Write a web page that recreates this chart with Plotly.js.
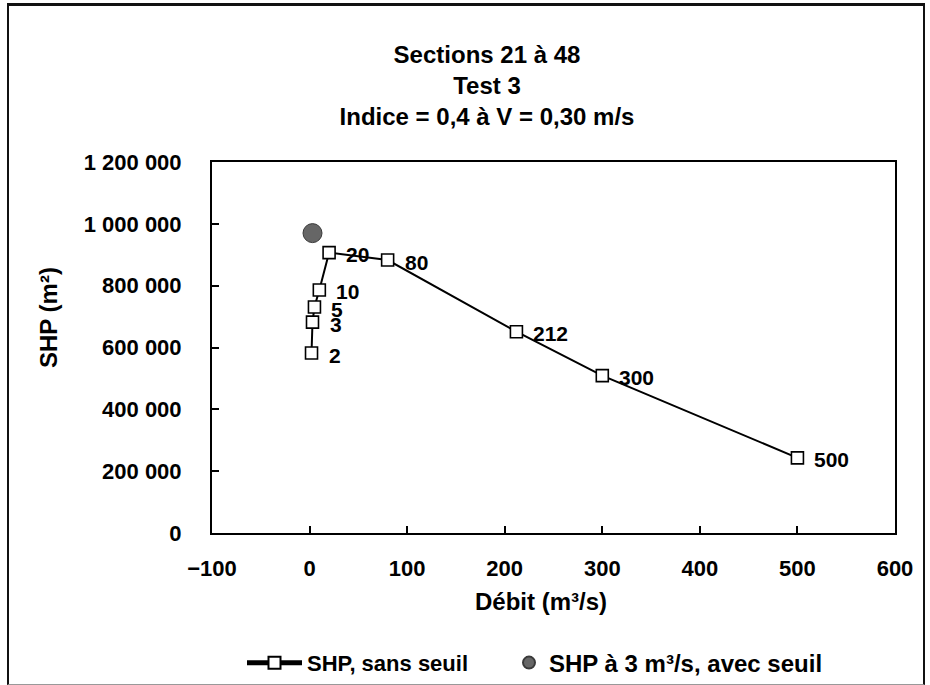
<!DOCTYPE html>
<html>
<head>
<meta charset="utf-8">
<script src="https://cdn.plot.ly/plotly-3.0.1.min.js"></script>
<style>
  html, body { margin: 0; padding: 0; background: #fff; }
  #wrap { position: relative; width: 930px; height: 685px; }
  #chart { position: absolute; left: 0; top: 0; width: 930px; height: 685px; }
  #frame { position: absolute; left: 7px; top: 3px; width: 914px; height: 678px;
           border-left: 2px solid #111; border-top: 3px solid #111; border-right: 2px solid #111;
           border-bottom: 1px solid #999; pointer-events: none; }
</style>
</head>
<body>
<div id="wrap"><div id="chart"></div><div id="frame"></div></div>
<script>
// Data
const debit = [2, 3, 5, 10, 20, 80, 212, 300, 500];
const shp = [582000, 682000, 731000, 786000, 907000, 883000, 651000, 509000, 243000];
const pointLabels = ["2", "3", "5", "10", "20", "80", "212", "300", "500"];
const seuilDebit = [3];
const seuilShp = [970000];
const seriesNames = ["SHP, sans seuil", "SHP à 3 m³/s, avec seuil"];
const yTickVals = [0, 200000, 400000, 600000, 800000, 1000000, 1200000];
const yTickText = ["0", "200 000", "400 000", "600 000", "800 000", "1 000 000", "1 200 000"];
const xTickVals = [-100, 0, 100, 200, 300, 400, 500, 600];
const titleLines = ["Sections 21 à 48", "Test 3", "Indice = 0,4 à V = 0,30 m/s"];
const xTitle = "Débit (m³/s)";
const yTitle = "SHP (m²)";

const FONT = "Liberation Sans, Arial, sans-serif";
const bold = (size) => ({ family: FONT, size: size, color: "#000", weight: "bold" });

const traces = [
  {
    x: debit, y: shp, name: seriesNames[0], legend: "legend",
    type: "scatter", mode: "lines+markers",
    line: { color: "#000", width: 2 },
    marker: { symbol: "square", size: 12, color: "#fff", line: { color: "#000", width: 1.6 } }
  },
  {
    x: seuilDebit, y: seuilShp, name: seriesNames[1], legend: "legend2",
    type: "scatter", mode: "markers",
    marker: { symbol: "circle", size: 19, color: "#666", line: { color: "#3a3a3a", width: 1 } }
  }
];

const L = 212, R = 35, T = 162, B = 152;
const PW = 930 - L - R, PH = 685 - T - B;
const px = v => (v - L) / PW;
const py = v => (685 - B - v) / PH;

// point labels, placed right of each marker
const labelAnns = debit.map((d, i) => ({
  x: d, y: shp[i], xref: "x", yref: "y", text: pointLabels[i],
  xanchor: "left", yanchor: "middle", xshift: 15, yshift: -2,
  showarrow: false, font: bold(21)
}));

const layout = {
  width: 930, height: 685,
  margin: { l: L, r: R, t: T, b: B, autoexpand: false },
  paper_bgcolor: "#fff", plot_bgcolor: "#fff",
  font: bold(22),
  showlegend: true,
  title: {
    text: titleLines.join("<br>"),
    font: bold(24),
    x: 487 / 930, xref: "container", xanchor: "center",
    y: 1 - 63 / 685, yref: "container", yanchor: "top"
  },
  xaxis: {
    range: [-100, 600], tickvals: xTickVals, ticks: "inside", ticklen: 7, tickwidth: 2, tickcolor: "#000",
    showline: true, linecolor: "#000", linewidth: 2, mirror: true,
    showgrid: false, zeroline: false, ticklabelstandoff: 15,
    tickfont: bold(22)
  },
  yaxis: {
    range: [0, 1200000], tickvals: yTickVals, ticktext: yTickText,
    ticks: "inside", ticklen: 7, tickwidth: 2, tickcolor: "#000",
    showline: true, linecolor: "#000", linewidth: 2, mirror: true,
    showgrid: false, zeroline: false, ticklabelstandoff: 24,
    tickfont: bold(22)
  },
  legend: {
    orientation: "h", x: px(242), xanchor: "left", y: py(663), yanchor: "middle",
    font: bold(22), itemwidth: 55,
    bgcolor: "rgba(0,0,0,0)", itemsizing: "constant"
  },
  legend2: {
    orientation: "h", x: px(509), xanchor: "left", y: py(663), yanchor: "middle",
    font: bold(24), itemwidth: 30,
    bgcolor: "rgba(0,0,0,0)", itemsizing: "constant"
  },
  annotations: [
    { text: yTitle, textangle: -90, xref: "paper", yref: "paper", x: px(48), y: py(318),
      xanchor: "center", yanchor: "middle", showarrow: false, font: bold(24) },
    { text: xTitle, xref: "paper", yref: "paper", x: px(541), y: py(601),
      xanchor: "center", yanchor: "middle", showarrow: false, font: bold(24) }
  ].concat(labelAnns)
};

Plotly.newPlot("chart", traces, layout, { displayModeBar: false, staticPlot: true });
</script>
</body>
</html>
